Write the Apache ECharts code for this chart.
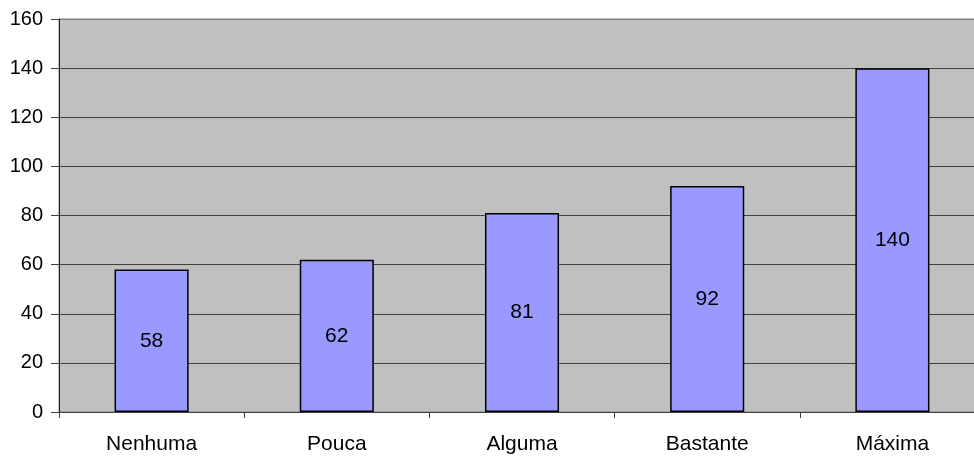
<!DOCTYPE html>
<html><head><meta charset="utf-8">
<script src="https://cdn.jsdelivr.net/npm/echarts@6/dist/echarts.min.js"></script>
<style>html,body{margin:0;padding:0;background:#fff}#c{width:974px;height:457px}</style>
</head><body><div id="c"></div>
<script>
const categories = ['Nenhuma','Pouca','Alguma','Bastante','Máxima'];
const values = [58,62,81,92,140];
const yTicks = [0,20,40,60,80,100,120,140,160];

const chart = echarts.init(document.getElementById('c'));
chart.setOption({
  animation:false,
  grid:{left:59,top:19,width:926,height:393,outerBoundsMode:'none',containLabel:false,show:true,backgroundColor:'#c0c0c0',borderColor:'#808080',borderWidth:1},
  xAxis:{type:'category',data:categories,
    axisLine:{lineStyle:{color:'#404040',width:1}},
    axisTick:{show:true,length:6,lineStyle:{color:'#404040'}},
    axisLabel:{color:'#000',fontFamily:'Liberation Sans, Arial',fontSize:21,margin:22}},
  yAxis:{type:'value',min:yTicks[0],max:yTicks[yTicks.length-1],interval:20,
    axisLine:{show:true,lineStyle:{color:'#202020'}},
    axisTick:{show:true,length:8,lineStyle:{color:'#404040'}},
    axisLabel:{color:'#000',fontFamily:'Liberation Sans, Arial',fontSize:20,margin:16},
    splitLine:{show:true,lineStyle:{color:['#404040','#404040','#404040','#404040','#404040','#404040','#404040','#404040','#808080'],width:1}}},
  series:[{type:'bar',data:values,barWidth:'40%',
    itemStyle:{color:'#9999ff',borderColor:'#000',borderWidth:1.5},
    label:{show:true,position:'inside',color:'#000',fontFamily:'Liberation Sans, Arial',fontSize:21}}]
});
</script></body></html>
